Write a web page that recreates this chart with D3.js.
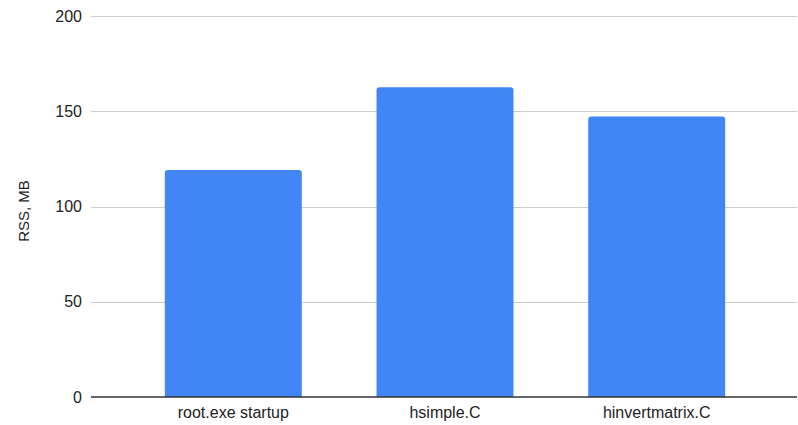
<!DOCTYPE html>
<html>
<head>
<meta charset="utf-8">
<script src="https://cdn.jsdelivr.net/npm/d3@7"></script>
<style>
  html, body { margin: 0; padding: 0; background: #fff; }
  svg { display: block; font-family: "Liberation Sans", Arial, sans-serif; }
</style>
</head>
<body>
<svg id="chart" width="798" height="425"></svg>
<script>
// Memory use (resident set size) per workload
const categories = ["root.exe startup", "hsimple.C", "hinvertmatrix.C"];
const rssValues = [119.2, 162.6, 147.2];
const yTicks = [0, 50, 100, 150, 200];
const yTitle = "RSS, MB";

const svg = d3.select("#chart");
const plotLeft = 91, plotRight = 797, plotTop = 16, plotBottom = 397;

const x = d3.scaleBand()
  .domain(categories)
  .range([plotLeft + 1, plotRight + 1])
  .paddingInner(0.353)
  .paddingOuter(0.344);

const y = d3.scaleLinear()
  .domain([0, 200])
  .range([plotBottom, plotTop]);

// Horizontal gridlines
svg.append("g")
  .selectAll("line")
  .data(yTicks.filter(d => d !== 0))
  .join("line")
  .attr("x1", plotLeft).attr("x2", plotRight)
  .attr("y1", d => Math.round(y(d)) + 0.5)
  .attr("y2", d => Math.round(y(d)) + 0.5)
  .attr("stroke", "#cccccc")
  .attr("stroke-width", 1);

// Y tick labels
svg.append("g")
  .selectAll("text")
  .data(yTicks)
  .join("text")
  .attr("x", 82)
  .attr("y", d => y(d))
  .attr("dy", "0.35em")
  .attr("text-anchor", "end")
  .attr("font-size", 16)
  .attr("fill", "#222")
  .text(d => d);

// Bars with slightly rounded top corners
const r = 3;
svg.append("g")
  .selectAll("path")
  .data(categories.map((c, i) => ({ c, v: rssValues[i] })))
  .join("path")
  .attr("fill", "#4285f4")
  .attr("d", d => {
    const x0 = x(d.c), x1 = x0 + x.bandwidth();
    const y0 = y(d.v), y1 = y(0);
    return `M${x0},${y1}V${y0 + r}Q${x0},${y0} ${x0 + r},${y0}` +
           `H${x1 - r}Q${x1},${y0} ${x1},${y0 + r}V${y1}Z`;
  });

// Baseline
svg.append("line")
  .attr("x1", plotLeft).attr("x2", plotRight)
  .attr("y1", y(0)).attr("y2", y(0))
  .attr("stroke", "#333")
  .attr("stroke-width", 1.5);

// Category labels
svg.append("g")
  .selectAll("text")
  .data(categories)
  .join("text")
  .attr("x", d => x(d) + x.bandwidth() / 2)
  .attr("y", 418)
  .attr("text-anchor", "middle")
  .attr("font-size", 16)
  .attr("fill", "#222")
  .text(d => d);

// Y axis title
svg.append("text")
  .attr("transform", `translate(29,211) rotate(-90)`)
  .attr("text-anchor", "middle")
  .attr("font-size", 15)
  .attr("fill", "#222")
  .text(yTitle);
</script>
</body>
</html>
